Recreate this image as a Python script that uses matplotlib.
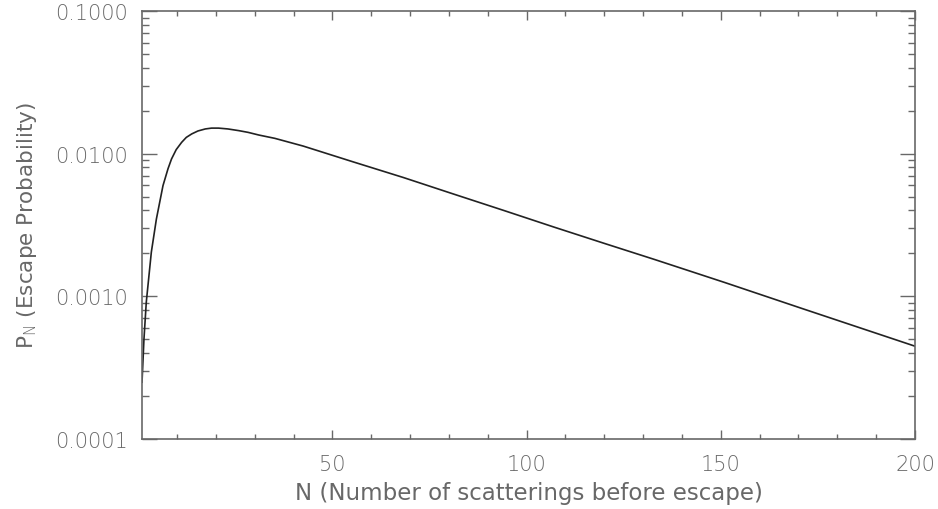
import matplotlib
matplotlib.use("Agg")
import matplotlib.pyplot as plt
from matplotlib.ticker import FixedLocator, LogLocator, FormatStrFormatter, NullFormatter

# escape probability
n_scat = [1, 1.5, 2.1, 3.4, 4.7, 6.4, 7.7, 8.6, 9.8, 11.2, 12.4, 13.8, 15.4, 17.3,
          18.9, 20.7, 23.1, 25.9, 28.3, 31.1, 35.2, 42.5, 55.4, 68.3, 81.2, 94.1,
          107, 120, 133, 151, 171, 200]
p_esc = [2.5e-4, 5.0e-4, 9.1e-4, 2.04e-3, 3.48e-3, 5.97e-3, 7.85e-3, 9.18e-3, 1.067e-2,
         1.20e-2, 1.30e-2, 1.375e-2, 1.442e-2, 1.49e-2,
         1.51e-2, 1.51e-2, 1.49e-2, 1.45e-2, 1.41e-2, 1.35e-2, 1.28e-2, 1.13e-2,
         8.75e-3, 6.8e-3, 5.21e-3, 4.0e-3, 3.06e-3,
         2.35e-3, 1.81e-3, 1.25e-3, 8.2e-4, 4.47e-4]

x_major = [50, 100, 150, 200]
x_minor = [10, 20, 30, 40, 60, 70, 80, 90, 110, 120, 130, 140, 160, 170, 180, 190]

grey = "#686868"
plt.rcParams["font.family"] = ["DejaVu Sans"]
plt.rcParams["font.weight"] = "light"

fig = plt.figure(figsize=(9.38, 5.10), dpi=100)
ax = fig.add_axes([0.1514, 0.1373, 0.8241, 0.8392])

ax.plot(n_scat, p_esc, color="#222222", lw=1.2)

ax.set_yscale("log")
ax.set_xlim(1, 200)
ax.set_ylim(1e-4, 1e-1)

ax.xaxis.set_major_locator(FixedLocator(x_major))
ax.xaxis.set_minor_locator(FixedLocator(x_minor))
ax.yaxis.set_major_locator(LogLocator(base=10, numticks=10))
ax.yaxis.set_minor_locator(LogLocator(base=10, subs=range(2, 10), numticks=20))
ax.yaxis.set_major_formatter(FormatStrFormatter("%.4f"))
ax.yaxis.set_minor_formatter(NullFormatter())

ax.tick_params(axis="both", which="both", direction="in", top=True, right=True,
               colors=grey, labelcolor=grey, labelsize=15, width=1.0)
ax.tick_params(axis="y", which="major", length=10.5, pad=10)
ax.tick_params(axis="y", which="minor", length=5)
ax.tick_params(axis="x", which="major", length=6.5, pad=11)
ax.tick_params(axis="x", which="minor", length=3.6)

for s in ax.spines.values():
    s.set_color(grey)
    s.set_linewidth(1.2)

ax.set_xlabel("N (Number of scatterings before escape)", fontsize=16.5, color=grey, labelpad=5)
ax.set_ylabel(r"P$_{\rm N}$ (Escape Probability)", fontsize=15.5, color=grey, labelpad=12)

fig.savefig("out.png", dpi=100)
